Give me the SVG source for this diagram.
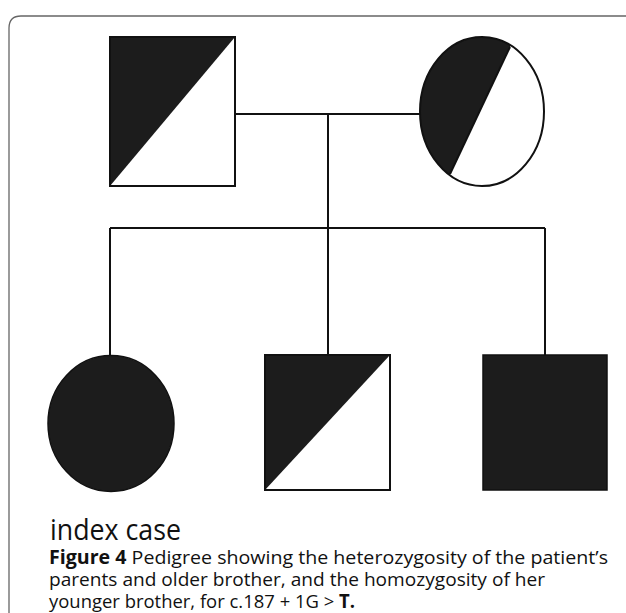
<svg xmlns="http://www.w3.org/2000/svg" width="626" height="613" viewBox="0 0 626 613">
<style>
.sym{stroke:#111;stroke-width:2;}
.dark{fill:#1c1c1c;stroke:none;}
.open{fill:#fff;}
.line{stroke:#111;stroke-width:2;fill:none;}
.label{font-family:"Open Sans","Liberation Sans",sans-serif;fill:#111;}
</style>
<rect width="626" height="613" fill="#fff"/>
<path d="M9,613 V28 Q9,16 21,16 H626" fill="none" stroke="#666" stroke-width="1.3"/>
<g id="connectors">
<path class="line" d="M235,114 H420"/>
<path class="line" d="M328,114 V228"/>
<path class="line" d="M110,228 H545"/>
<path class="line" d="M110,228 V356"/>
<path class="line" d="M328,228 V355"/>
<path class="line" d="M545,228 V355"/>
</g>
<g id="father">
<rect class="open" x="110" y="37" width="125" height="149"/>
<polygon class="dark" points="110,37 235,37 110,186"/>
<rect class="sym" x="110" y="37" width="125" height="149" fill="none"/>
</g>
<g id="mother">
<clipPath id="mclip"><ellipse cx="482" cy="111.5" rx="62" ry="74.5"/></clipPath>
<ellipse class="open" cx="482" cy="111.5" rx="62" ry="74.5"/>
<polygon class="dark" clip-path="url(#mclip)" points="400,30 518,30 440,195 400,195"/>
<line class="sym" x1="510" y1="47" x2="450" y2="174"/>
<ellipse class="sym" cx="482" cy="111.5" rx="62" ry="74.5" fill="none"/>
</g>
<g id="index-case">
<ellipse cx="111" cy="423.5" rx="63" ry="68" fill="#1c1c1c" stroke="#111" stroke-width="1.5"/>
<text class="label" x="50" y="540" font-size="30" textLength="131" lengthAdjust="spacingAndGlyphs">index case</text>
</g>
<g id="older-brother">
<rect class="open" x="265" y="355" width="125" height="135"/>
<polygon class="dark" points="265,355 390,355 265,490"/>
<rect class="sym" x="265" y="355" width="125" height="135" fill="none"/>
</g>
<g id="younger-brother">
<rect x="483" y="355" width="124" height="135" fill="#1c1c1c" stroke="#111" stroke-width="1.5"/>
</g>
<g id="caption" class="label" font-size="19">
<text x="49" y="564" textLength="559" lengthAdjust="spacingAndGlyphs"><tspan font-weight="bold">Figure 4</tspan> Pedigree showing the heterozygosity of the patient’s</text>
<text x="49" y="586" textLength="496" lengthAdjust="spacingAndGlyphs">parents and older brother, and the homozygosity of her</text>
<text x="49" y="608" textLength="306" lengthAdjust="spacingAndGlyphs">younger brother, for c.187 + 1G &gt; <tspan font-weight="bold">T.</tspan></text>
</g>
</svg>
